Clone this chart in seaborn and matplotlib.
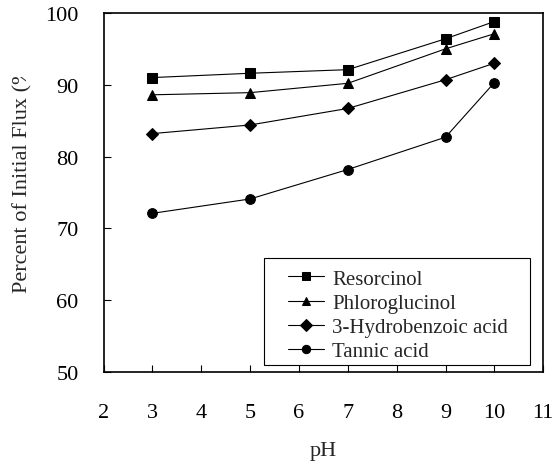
import matplotlib
matplotlib.use("Agg")
import matplotlib.pyplot as plt
from matplotlib.patches import Rectangle
from matplotlib.transforms import Bbox
import seaborn as sns
import pandas as pd

ph = [3, 5, 7, 9, 10]
resorcinol = [91.0, 91.6, 92.1, 96.4, 98.8]
phloroglucinol = [88.6, 88.9, 90.2, 95.0, 97.1]
hydrobenzoic = [83.2, 84.4, 86.7, 90.7, 93.0]
tannic = [72.1, 74.1, 78.2, 82.7, 90.3]
names = ["Resorcinol", "Phloroglucinol", "3-Hydrobenzoic acid", "Tannic acid"]
xticks = [2, 3, 4, 5, 6, 7, 8, 9, 10, 11]
yticks = [50, 60, 70, 80, 90, 100]

sns.set_style("ticks")
FAM = "Liberation Serif"
plt.rcParams['font.family'] = 'serif'
plt.rcParams['font.serif'] = [FAM, 'DejaVu Serif']

rows = []
for name, vals in zip(names, [resorcinol, phloroglucinol, hydrobenzoic, tannic]):
    for x, v in zip(ph, vals):
        rows.append({"pH": x, "flux": v, "compound": name})
df = pd.DataFrame(rows)

fig = plt.figure(figsize=(5.6, 4.64), dpi=100)
ax = fig.add_axes([0.185, 0.196, 0.785, 0.774])

markers = {"Resorcinol": "s", "Phloroglucinol": "^", "3-Hydrobenzoic acid": "D", "Tannic acid": "o"}
sns.lineplot(data=df, x="pH", y="flux", hue="compound", style="compound",
             markers=markers, dashes=False, palette=["black"] * 4,
             hue_order=names, style_order=names,
             linewidth=0.8, markersize=7.5, markeredgecolor="black", ax=ax)
for line in ax.lines:
    m = line.get_marker()
    if m == "D":
        line.set_markersize(6)
    elif m == "o":
        line.set_markersize(7)

ax.set_xlim(2, 11)
ax.set_ylim(50, 100)
ax.set_xticks(xticks)
ax.set_yticks(yticks)
ax.set_xticklabels([str(t) for t in xticks], family=FAM, fontsize=16)
ax.set_yticklabels([str(t) for t in yticks], family=FAM, fontsize=16)
ax.tick_params(direction="in", length=5, width=0.8, colors="black")
ax.tick_params(axis="x", pad=22)
ax.tick_params(axis="y", pad=18)
for s in ax.spines.values():
    s.set_linewidth(1.2)
    s.set_color("black")

ax.set_xlabel("pH", fontsize=16, labelpad=14, family=FAM)
ax.set_ylabel("")
yl = fig.text(0.04, 0.369, "Percent of Initial Flux (%)", rotation=90, fontsize=16,
              ha="center", va="bottom", family=FAM)
yl.set_clip_box(Bbox.from_extents(0, 0, 560, 464 - 78))
yl.set_clip_on(True)

leg = ax.legend(loc="lower left", bbox_to_anchor=(0.42, 0.03), borderaxespad=0,
                prop={"family": FAM, "size": 15}, frameon=False,
                handlelength=1.7, handletextpad=0.4, labelspacing=0.22,
                borderpad=0.0, title=None)
for h in leg.legend_handles:
    h.set_markersize(6)
ax.add_patch(Rectangle((0.365, 0.0195), 0.605, 0.298, transform=ax.transAxes,
                       fill=False, edgecolor="black", linewidth=0.8, zorder=5))

fig.savefig("out.png", dpi=100)
